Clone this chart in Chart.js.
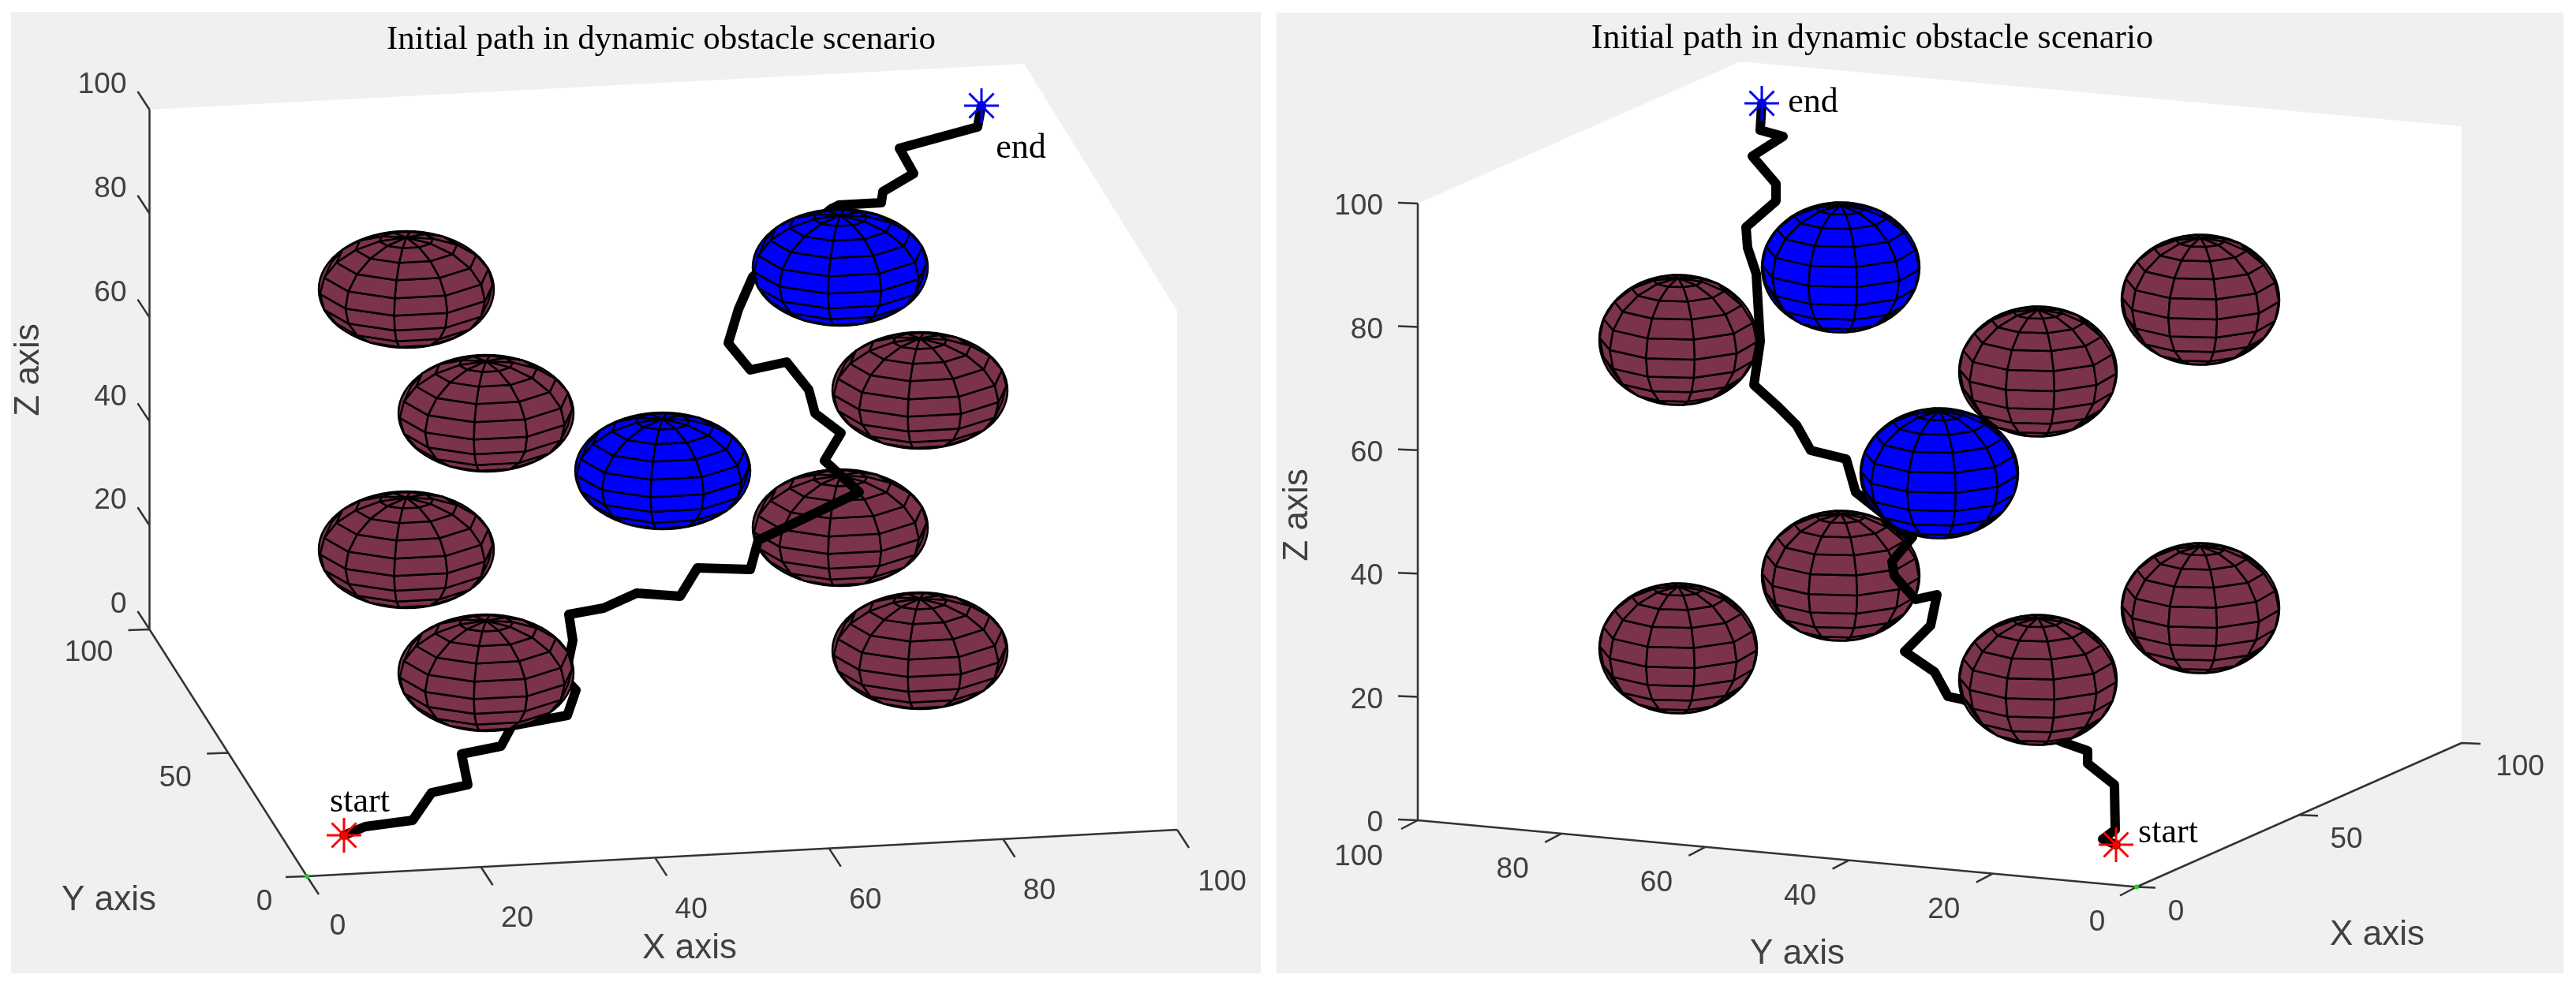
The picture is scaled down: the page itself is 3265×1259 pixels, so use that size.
<!DOCTYPE html>
<html>
<head>
<meta charset="utf-8">
<title>Initial path in dynamic obstacle scenario</title>
<script src="https://cdn.jsdelivr.net/npm/chart.js@4/dist/chart.umd.min.js"></script>
<style>
    html, body { margin: 0; background: #fff; }
    canvas { position: absolute; background: #f0f0f0; }
    #leftPanel { left: 14px; top: 15px; }
    #rightPanel { left: 1618px; top: 16px; }
</style>
</head>
<body>
<canvas id="leftPanel" width="1584" height="1219"></canvas>
<canvas id="rightPanel" width="1631" height="1218"></canvas>
<script>
const titleText = "Initial path in dynamic obstacle scenario";

// tick labels
const zTicks = [0, 20, 40, 60, 80, 100];
const xTicksLeft = [0, 20, 40, 60, 80, 100];
const yTicksLeft = [0, 50, 100];
const xTicksRight = [0, 50, 100];
const yTicksRight = [0, 20, 40, 60, 80, 100];

// paths
const pathLeft = [
    [436,1059],[463,1048],[523,1040],[547,1005],[593,995],[585,956],[635,946],[649,920],
    [719,907],[730,875],[716,860],[726,812],[721,779],[765,771],[807,752],[862,756],
    [884,720],[951,722],[961,685],[1089,624],[1045,584],[1066,549],[1033,524],[1025,494],
    [997,459],[951,469],[923,435],[936,392],[954,351],[1053,265],[1063,260],[1117,257],
    [1119,243],[1158,220],[1140,188],[1239,161],[1244,134]
];
const pathRight = [
    [2682,1071],[2665,1064],[2681,1052],[2680,995],[2646,968],[2646,952],[2612,940],[2488,887],
    [2469,883],[2452,852],[2414,826],[2447,793],[2455,754],[2428,760],[2401,730],[2398,712],
    [2424,681],[2352,624],[2340,582],[2295,571],[2277,539],[2254,516],[2223,488],[2231,433],
    [2226,347],[2215,314],[2213,288],[2251,255],[2251,233],[2221,198],[2260,173],[2231,165],
    [2233,131]
];

// obstacle centres
const leftBehindPath = [[1065,669]];
const leftOverPathRed = [[515,367],[616,524],[515,697],[616,853],[1166,495],[1166,825]];
const leftOverPathBlue = [[840,597],[1065,339]];
const rightBehindPath = [[2127,431],[2333,730]];
const rightOverPathRed = [[2127,822],[2789,380],[2583,471],[2789,771],[2583,862]];
const rightOverPathBlue = [[2333,339],[2458,600]];

const startLeft = [436,1059], endLeft = [1244,134];
const startRight = [2682,1071], endRight = [2233,131];

const tickColor = '#404040';
const sansFont = "'Liberation Sans', Arial, sans-serif";
const serifFont = "'Liberation Serif', 'Times New Roman', serif";

function toPoints(list) {
    return list.map(p => ({ x: p[0], y: p[1] }));
}

function axisPoint(axis, value) {
    const t = value / 100;
    return [axis.from[0] + (axis.to[0] - axis.from[0]) * t, axis.from[1] + (axis.to[1] - axis.from[1]) * t];
}

// axis line and tick marks as one broken line
function axisLine(axis) {
    const pts = [{ x: axis.from[0], y: axis.from[1] }, { x: axis.to[0], y: axis.to[1] }];
    axis.ticks.forEach(v => {
        const p = axisPoint(axis, v);
        pts.push({ x: NaN, y: NaN });
        pts.push({ x: p[0], y: p[1] });
        pts.push({ x: p[0] + axis.tick[0], y: p[1] + axis.tick[1] });
    });
    return {
        data: pts, showLine: true, pointRadius: 0, borderColor: '#333', borderWidth: 2.5,
        spanGaps: false, clip: false
    };
}

function sphereSet(list, color) {
    return { data: toPoints(list), pointRadius: 0, showLine: false, sphereFill: color, clip: false };
}

function starSet(point, color) {
    return {
        data: toPoints([point]), pointStyle: 'star', pointRadius: 22, pointBorderColor: color,
        pointBorderWidth: 3, showLine: false, clip: false
    };
}

function pathSet(list) {
    return {
        data: toPoints(list), showLine: true, pointRadius: 0, borderColor: '#000', borderWidth: 12,
        borderJoinStyle: 'round', borderCapStyle: 'round', tension: 0, clip: false
    };
}

// smooth outline first, then each facet of the 10x10 sphere mesh with back faces skipped
function drawSphere(ctx, cx, cy, color, view) {
    const rad = Math.PI / 180;
    const e = view.elev * rad;
    const vertex = (lat, lon) => {
        const la = lat * rad, lo = (lon + view.phase) * rad;
        const X = Math.cos(la) * Math.sin(lo), D = Math.cos(la) * Math.cos(lo), Z = Math.sin(la);
        return {
            x: cx + X * view.rx,
            y: cy - (Z * Math.cos(e) - D * Math.sin(e)) * view.ry,
            depth: D * Math.cos(e) + Z * Math.sin(e)
        };
    };
    ctx.save();
    ctx.fillStyle = color;
    ctx.strokeStyle = '#000';
    ctx.lineWidth = 2.5;
    ctx.lineJoin = 'round';
    ctx.beginPath();
    ctx.ellipse(cx, cy, view.rx, view.ry, 0, 0, Math.PI * 2);
    ctx.fill();
    ctx.stroke();
    for (let lat = -90; lat < 90; lat += 18) {
        for (let lon = 0; lon < 360; lon += 36) {
            const q = [vertex(lat, lon), vertex(lat, lon + 36), vertex(lat + 18, lon + 36), vertex(lat + 18, lon)];
            if (q[0].depth + q[1].depth + q[2].depth + q[3].depth <= 0) continue;
            ctx.beginPath();
            q.forEach((p, i) => i ? ctx.lineTo(p.x, p.y) : ctx.moveTo(p.x, p.y));
            ctx.closePath();
            ctx.fill();
            ctx.stroke();
        }
    }
    ctx.restore();
}

const sphereMesh = {
    id: 'sphereMesh',
    afterDatasetDraw(chart, args) {
        const ds = chart.data.datasets[args.index];
        if (!ds.sphereFill) return;
        args.meta.data.forEach(pt => drawSphere(chart.ctx, pt.x, pt.y, ds.sphereFill, chart.options.plugins.sphereMesh));
    }
};

const panelText = {
    id: 'panelText',
    afterDraw(chart) {
        const cfg = chart.options.plugins.panelText;
        const ctx = chart.ctx;
        const sx = chart.scales.x, sy = chart.scales.y;
        ctx.save();
        ctx.textBaseline = 'middle';
        cfg.axes.forEach(axis => {
            ctx.font = `37px ${sansFont}`;
            ctx.fillStyle = tickColor;
            ctx.textAlign = axis.align || 'center';
            axis.ticks.forEach(v => {
                const p = axisPoint(axis, v);
                const label = String(v);
                const off = axis.offset[label.length - 1];
                ctx.fillText(label, sx.getPixelForValue(p[0] + off[0]), sy.getPixelForValue(p[1] + off[1]));
            });
            ctx.font = `44px ${sansFont}`;
            const lx = sx.getPixelForValue(axis.labelAt[0]), ly = sy.getPixelForValue(axis.labelAt[1]);
            ctx.textAlign = 'center';
            if (axis.rotated) {
                ctx.save();
                ctx.translate(lx, ly);
                ctx.rotate(-Math.PI / 2);
                ctx.fillText(axis.label, 0, 0);
                ctx.restore();
            } else {
                ctx.fillText(axis.label, lx, ly);
            }
        });
        ctx.font = `44px ${serifFont}`;
        ctx.fillStyle = '#000';
        ctx.textAlign = 'center';
        cfg.notes.forEach(n => ctx.fillText(n.text, sx.getPixelForValue(n.at[0]), sy.getPixelForValue(n.at[1])));
        ctx.restore();
    }
};

function buildPanel(id, cfg) {
    // datasets are listed front first, chart.js paints the last one first
    const datasets = [
        starSet(cfg.start, '#ff0000'),
        starSet(cfg.end, '#0000ff'),
        sphereSet(cfg.overBlue, '#0000ff'),
        sphereSet(cfg.overRed, '#7b3349'),
        pathSet(cfg.path),
        sphereSet(cfg.behind, '#7b3349'),
        { data: toPoints([cfg.axes[0].from]), pointRadius: 3, pointBackgroundColor: '#22cc22', pointBorderWidth: 0, showLine: false, clip: false },
        ...cfg.axes.map(axisLine),
        {
            data: toPoints(cfg.box), showLine: true, pointRadius: 0, borderWidth: 0, borderColor: 'rgba(0,0,0,0)',
            backgroundColor: '#ffffff', fill: 'shape', clip: false
        }
    ];
    new Chart(document.getElementById(id), {
        type: 'scatter',
        data: { datasets },
        plugins: [sphereMesh, panelText],
        options: {
            responsive: false,
            animation: false,
            layout: { autoPadding: false, padding: { left: cfg.padLeft, right: cfg.padRight, top: 0, bottom: 0 } },
            scales: {
                x: { type: 'linear', display: false, min: cfg.rect[0] + cfg.padLeft, max: cfg.rect[2] - cfg.padRight },
                y: { type: 'linear', display: false, reverse: true, min: cfg.rect[1] + cfg.titleTop + cfg.titleSize + 8, max: cfg.rect[3] }
            },
            plugins: {
                legend: { display: false },
                tooltip: { enabled: false },
                title: {
                    display: true, text: titleText, color: '#000',
                    font: { family: serifFont, size: cfg.titleSize, weight: 'normal', lineHeight: 1 },
                    padding: { top: cfg.titleTop, bottom: 8 }
                },
                sphereMesh: cfg.sphere,
                panelText: { axes: cfg.axes, notes: cfg.notes }
            }
        }
    });
}

buildPanel('leftPanel', {
    rect: [14, 15, 1598, 1234], padLeft: 64, padRight: 0, titleTop: 14, titleSize: 43,
    box: [[189.5,139],[1298,81],[1492,394],[1492,1052],[389,1111],[189.5,798]],
    path: pathLeft, behind: leftBehindPath, overRed: leftOverPathRed, overBlue: leftOverPathBlue,
    start: startLeft, end: endLeft,
    sphere: { rx: 111, ry: 74, elev: 27, phase: -8 },
    axes: [
        { from: [389,1111], to: [1492,1052], ticks: xTicksLeft, tick: [15,23], offset: [[39,64],[46,66],[57,67]], label: 'X axis', labelAt: [874,1203] },
        { from: [389,1111], to: [189.5,798], ticks: yTicksLeft, tick: [-27,1], offset: [[-54,33],[-67,32],[-77,30]], label: 'Y axis', labelAt: [138,1142] },
        { from: [189.5,798], to: [189.5,139], ticks: zTicks, tick: [-15,-23], align: 'right', offset: [[-29,-31],[-29,-31],[-29,-31]], label: 'Z axis', labelAt: [37,469], rotated: true }
    ],
    notes: [{ text: 'start', at: [456,1017] }, { text: 'end', at: [1294,188] }]
});

buildPanel('rightPanel', {
    rect: [1618, 16, 3249, 1234], padLeft: 0, padRight: 121, titleTop: 11, titleSize: 44,
    box: [[1797,258],[2206,78],[3120,160],[3120,942],[2708,1124.5],[1797,1040]],
    path: pathRight, behind: rightBehindPath, overRed: rightOverPathRed, overBlue: rightOverPathBlue,
    start: startRight, end: endRight,
    sphere: { rx: 100, ry: 82.5, elev: 18, phase: 12 },
    axes: [
        { from: [2708,1124.5], to: [3120,942], ticks: xTicksRight, tick: [24,1], offset: [[50,32],[60,32],[74,31]], label: 'X axis', labelAt: [3013,1186] },
        { from: [2708,1124.5], to: [1797,1040], ticks: yTicksRight, tick: [-21,11], offset: [[-50,45],[-62,46],[-75,47]], label: 'Y axis', labelAt: [2278,1210] },
        { from: [1797,1040], to: [1797,258], ticks: zTicks, tick: [-25,-1], align: 'right', offset: [[-44,4],[-44,4],[-44,4]], label: 'Z axis', labelAt: [1645,653], rotated: true }
    ],
    notes: [{ text: 'start', at: [2748,1056] }, { text: 'end', at: [2298,130] }]
});
</script>
</body>
</html>
